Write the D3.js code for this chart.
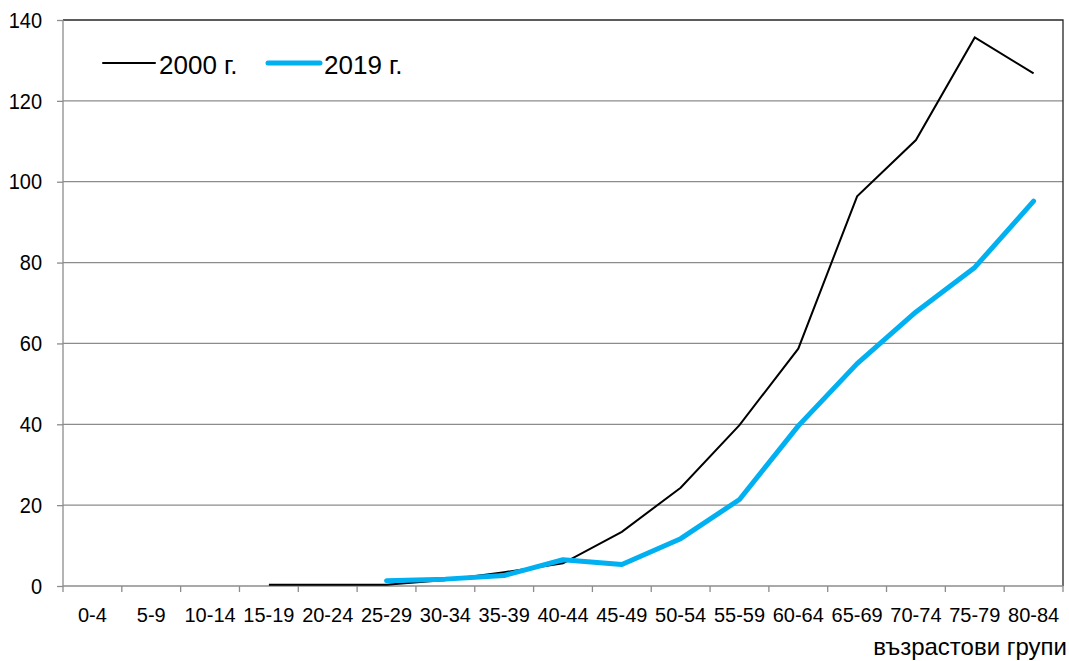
<!DOCTYPE html>
<html>
<head>
<meta charset="utf-8">
<script src="https://cdn.jsdelivr.net/npm/d3@7"></script>
<style>
  body { margin: 0; background: #fff; }
  text { font-family: "Liberation Sans", Arial, sans-serif; fill: #000; }
</style>
</head>
<body>
<div id="chart"></div>
<script>
// age groups
var groups = ["0-4", "5-9", "10-14", "15-19", "20-24", "25-29", "30-34", "35-39",
  "40-44", "45-49", "50-54", "55-59", "60-64", "65-69", "70-74", "75-79", "80-84"];

// null = no value
var y2000 = [null, null, null, 0.3, 0.3, 0.3, 1.5, 3.4, 5.6, 13.4, 24.3, 39.8, 58.7, 96.4, 110.3, 135.7, 126.8];
var y2019 = [null, null, null, null, null, 1.3, 1.7, 2.6, 6.5, 5.3, 11.7, 21.4, 39.6, 55.0, 67.8, 78.8, 95.2];

var yTicks = [0, 20, 40, 60, 80, 100, 120, 140];
var seriesNames = ["2000 г.", "2019 г."];
var xTitle = "възрастови групи";

var W = 1069, H = 661;
var plotL = 63, plotR = 1063, plotT = 20, plotB = 586;

var svg = d3.select("#chart").append("svg")
    .attr("width", W)
    .attr("height", H);

var x = d3.scaleBand()
    .domain(groups)
    .range([plotL, plotR]);

var y = d3.scaleLinear()
    .domain([0, 140])
    .range([plotB, plotT]);

// gridlines
svg.selectAll("line.grid")
    .data(yTicks.slice(1, -1))
    .enter().append("line")
        .attr("class", "grid")
        .attr("x1", plotL)
        .attr("x2", plotR)
        .attr("y1", function(d) { return y(d) })
        .attr("y2", function(d) { return y(d) })
        .attr("stroke", "#8c8c8c")
        .attr("stroke-width", 1.3);

// top and right border
svg.append("path")
    .attr("d", "M" + plotL + "," + plotT + "H" + plotR + "V" + plotB)
    .attr("fill", "none")
    .attr("stroke", "#262626")
    .attr("stroke-width", 1.3);

// y axis
var yAxis = svg.append("g")
    .attr("transform", "translate(" + plotL + ",0)")
    .call(d3.axisLeft(y).tickValues(yTicks).tickSize(6).tickPadding(15));

// x axis
var xAxis = svg.append("g")
    .attr("transform", "translate(0," + plotB + ")")
    .call(d3.axisBottom(x).tickSize(0).tickPadding(22));

// x ticks between categories
xAxis.selectAll("line.sep")
    .data(d3.range(groups.length + 1))
    .enter().append("line")
        .attr("class", "sep")
        .attr("x1", function(i) { return plotL + i * x.step() })
        .attr("x2", function(i) { return plotL + i * x.step() })
        .attr("y1", 0)
        .attr("y2", 6)
        .attr("stroke", "#8c8c8c")
        .attr("stroke-width", 1.3);

[yAxis, xAxis].forEach(function(g) {
    g.select(".domain").attr("stroke", "#8c8c8c").attr("stroke-width", 1.3);
    g.selectAll(".tick line").attr("stroke", "#8c8c8c").attr("stroke-width", 1.3);
    g.selectAll(".tick text")
        .attr("font-size", 20)
        .attr("font-family", "Liberation Sans, Arial, sans-serif")
        .attr("fill", "#000");
});
// y labels look a bit taller in the original
yAxis.selectAll(".tick text").attr("transform", "scale(1,1.12)");
yAxis.select(".domain").attr("d", "M0," + plotT + "V" + plotB);
xAxis.select(".domain").attr("d", "M" + plotL + ",0H" + plotR);

svg.append("text")
    .attr("x", 1067)
    .attr("y", 655)
    .attr("text-anchor", "end")
    .attr("font-size", 24)
    .text(xTitle);

var line = d3.line()
    .defined(function(d) { return d != null })
    .x(function(d, i) { return x(groups[i]) + x.bandwidth() / 2 })
    .y(function(d) { return y(d) });

svg.append("path")
    .datum(y2000)
    .attr("d", line)
    .attr("fill", "none")
    .attr("stroke", "#000")
    .attr("stroke-width", 2);

svg.append("path")
    .datum(y2019)
    .attr("d", line)
    .attr("fill", "none")
    .attr("stroke", "#00b0f0")
    .attr("stroke-width", 5)
    .attr("stroke-linecap", "round")
    .attr("stroke-linejoin", "round");

// legend
var legend = [
    { name: seriesNames[0], color: "#000", width: 2, x: 103 },
    { name: seriesNames[1], color: "#00b0f0", width: 5, x: 268 }
];
var lg = svg.selectAll("g.legend")
    .data(legend)
    .enter().append("g")
        .attr("class", "legend")
        .attr("transform", function(d) { return "translate(" + d.x + ",63)" });
lg.append("line")
    .attr("x1", 0)
    .attr("x2", 52)
    .attr("stroke", function(d) { return d.color })
    .attr("stroke-width", function(d) { return d.width })
    .attr("stroke-linecap", "round");
lg.append("text")
    .attr("x", 56)
    .attr("y", 11)
    .attr("font-size", 26)
    .text(function(d) { return d.name });
</script>
</body>
</html>
